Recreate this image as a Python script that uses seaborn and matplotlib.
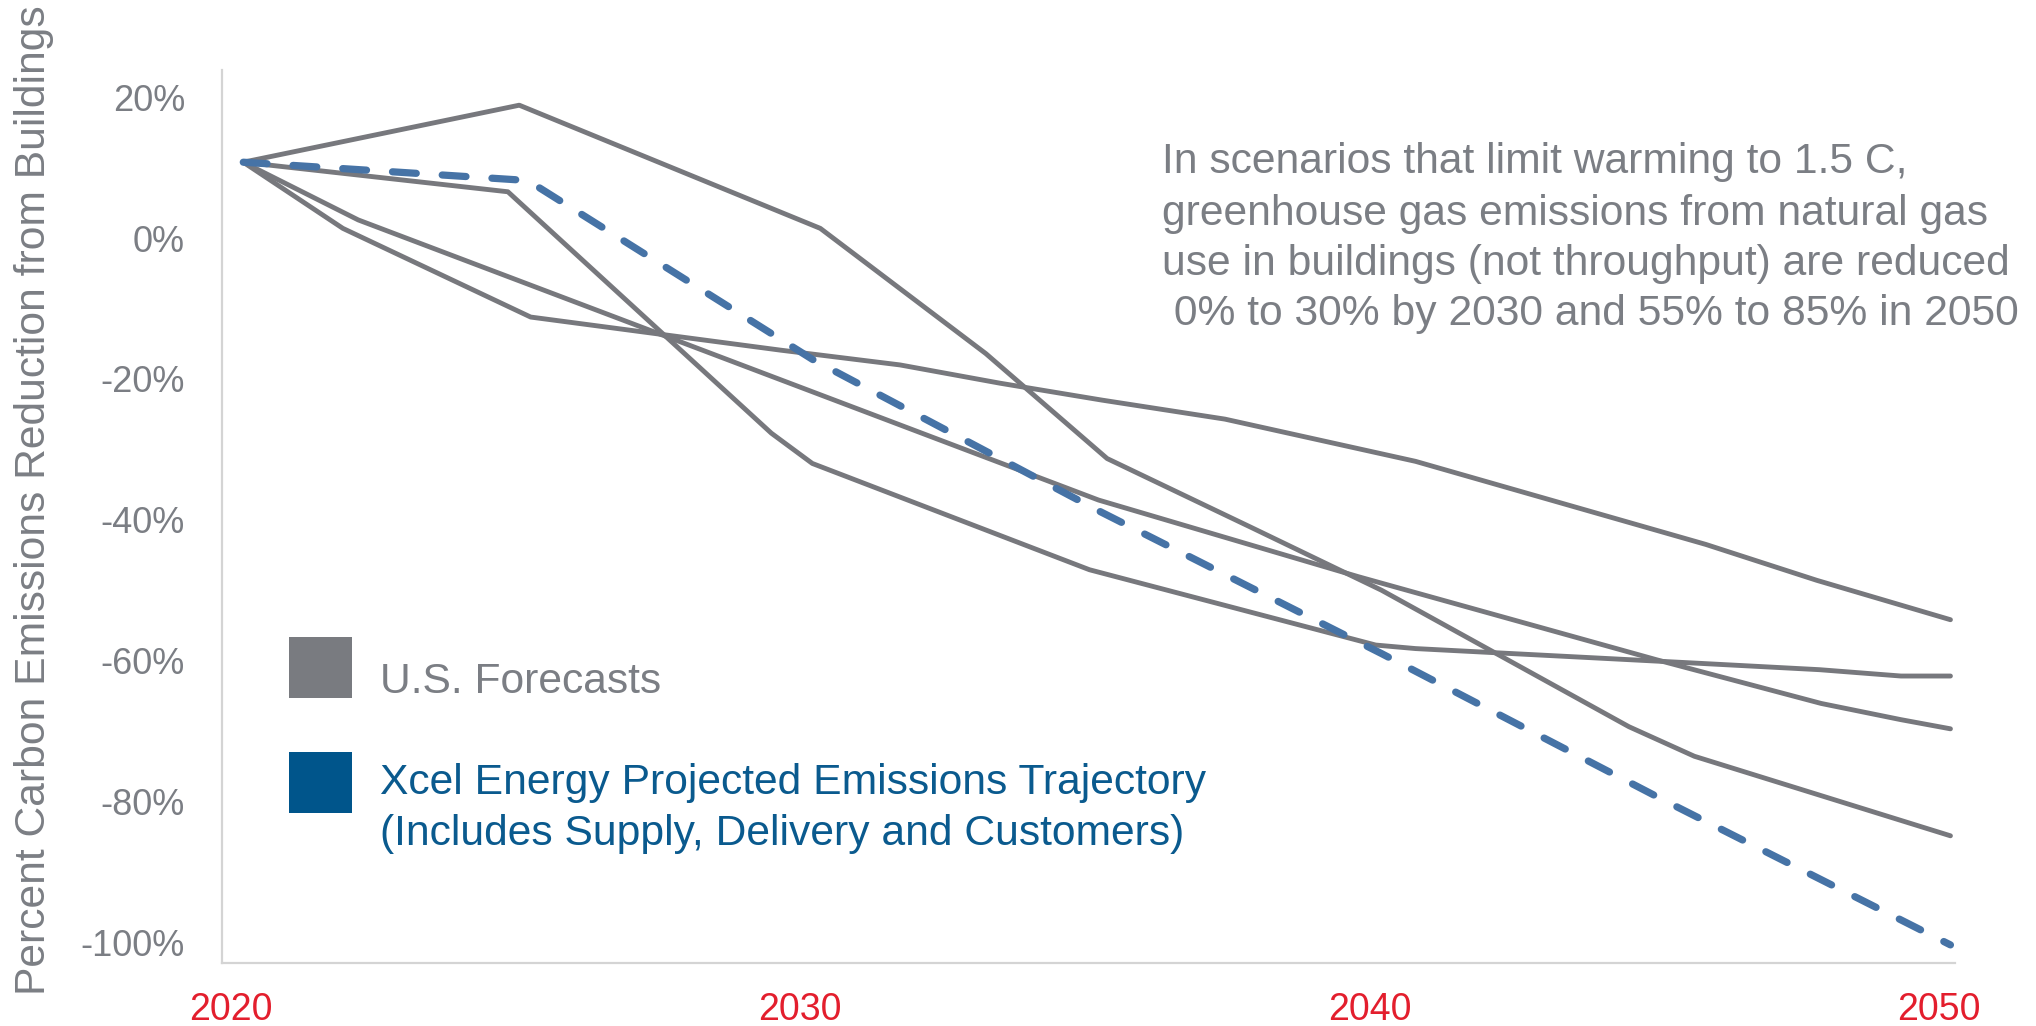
import matplotlib
matplotlib.use("Agg")
import matplotlib.pyplot as plt
import matplotlib.transforms as mtransforms
from matplotlib.patches import Rectangle
import numpy as np
import pandas as pd
import seaborn as sns

# ---------------- data ----------------
forecast_a_years = [2020, 2024.85, 2030.14, 2033.05, 2035.18, 2037.69, 2040.0, 2044.35, 2045.5, 2050]
forecast_a_values = [10.8, 18.9, 1.4, -16.4, -31.3, -41.0, -50.0, -69.4, -73.6, -84.9]

forecast_b_years = [2020, 2024.65, 2029.28, 2030.0, 2034.87, 2039.9, 2040.6, 2045.6, 2047.7, 2049.13, 2050]
forecast_b_values = [10.8, 6.6, -27.7, -32.0, -47.1, -57.8, -58.3, -60.4, -61.3, -62.2, -62.2]

forecast_c_years = [2020, 2022.02, 2035.03, 2039.6, 2044.84, 2047.73, 2049.13, 2050]
forecast_c_values = [10.8, 2.6, -37.2, -48.1, -59.9, -66.1, -68.4, -69.7]

forecast_d_years = [2020, 2021.75, 2025.05, 2029.44, 2031.54, 2033.3, 2035.09, 2037.25, 2040.6, 2045.7, 2047.65, 2050]
forecast_d_values = [10.8, 1.4, -11.2, -15.9, -18.0, -20.6, -23.0, -25.7, -31.7, -43.5, -48.6, -54.2]

xcel_years = [2020, 2025, 2030, 2035, 2040, 2045, 2050]
xcel_values = [10.8, 8.2, -17.2, -38.6, -59.0, -80.0, -100.4]

y_ticks = [-100, -80, -60, -40, -20, 0, 20]
x_ticks = [2020, 2030, 2040, 2050]
x_tick_labels = ["2020", "2030", "2040", "2050"]

y_label = "Percent Carbon Emissions Reduction from Buildings"
note_lines = [
    "In scenarios that limit warming to 1.5 C,",
    "greenhouse gas emissions from natural gas",
    "use in buildings (not throughput) are reduced",
    " 0% to 30% by 2030 and 55% to 85% in 2050",
]
legend_us = "U.S. Forecasts"
legend_xcel = ["Xcel Energy Projected Emissions Trajectory",
               "(Includes Supply, Delivery and Customers)"]

# ---------------- styles ----------------
GRAY_LINE = "#77787d"
BLUE_LINE = "#4673a6"
GRAY_TEXT = "#7b7e84"
BLUE_SQ = "#00558b"
BLUE_TEXT = "#0a5a8e"
RED = "#e31e2d"
SPINE = "#d4d4d4"

sns.set_theme(style="white")
plt.rcParams["font.family"] = ["Liberation Sans", "DejaVu Sans"]
plt.rcParams["axes.unicode_minus"] = False

W, H = 2036, 1026
fig = plt.figure(figsize=(W / 100, H / 100), dpi=100)
ax = fig.add_axes([222 / W, 1 - 962.5 / H, (1955 - 222) / W, (962.5 - 70) / H])

frames = []
for name, ys, vs in [("A", forecast_a_years, forecast_a_values),
                     ("B", forecast_b_years, forecast_b_values),
                     ("C", forecast_c_years, forecast_c_values),
                     ("D", forecast_d_years, forecast_d_values)]:
    frames.append(pd.DataFrame({"year": ys, "value": vs, "series": name}))
us = pd.concat(frames, ignore_index=True)

sns.lineplot(data=us, x="year", y="value", hue="series",
             palette=[GRAY_LINE] * 4, estimator=None, sort=False,
             lw=3.5, legend=False, ax=ax)
for ln in ax.lines:
    ln.set_solid_joinstyle("round")
    ln.set_solid_capstyle("round")

xcel = pd.DataFrame({"year": xcel_years, "value": xcel_values})
sns.lineplot(data=xcel, x="year", y="value", color=BLUE_LINE, lw=5.2,
             estimator=None, sort=False, legend=False, ax=ax)
xl = ax.lines[-1]
xl.set_dashes((3.3, 3.6))
xl.set_dash_capstyle("round")
xl.set_dash_joinstyle("round")

ax.set_xlim(2019.626, 2050.08)
ax.set_ylim(-102.9, 23.9)
ax.set_xlabel("")
ax.set_ylabel("")
sns.despine(ax=ax)
for s in ("left", "bottom"):
    ax.spines[s].set_color(SPINE)
    ax.spines[s].set_linewidth(1.6)

ax.set_yticks(y_ticks)
ax.set_yticklabels([f"{v}%" for v in y_ticks])
ax.set_xticks(x_ticks)
ax.set_xticklabels(x_tick_labels)
ax.tick_params(axis="y", length=0, pad=26.6, labelsize=26, labelcolor=GRAY_TEXT)
ax.tick_params(axis="x", length=0, pad=21.5, labelsize=27, labelcolor=RED)
off = mtransforms.ScaledTranslation(-12 / 100, 0, fig.dpi_scale_trans)
for lbl in ax.get_xticklabels():
    lbl.set_transform(lbl.get_transform() + off)

# y label
fig.text(34 / W, 1 - 500 / H, y_label, rotation=90, ha="center", va="center",
         fontsize=30.7, color=GRAY_TEXT)

# annotation
for line, base in zip(note_lines, [173.5, 224.5, 275, 324.5]):
    fig.text(1162 / W, 1 - base / H, line, ha="left", va="baseline",
             fontsize=30.7, color=GRAY_TEXT)

# legend (manual)
fig.patches.append(Rectangle((289 / W, 1 - 697.7 / H), 62.7 / W, 61 / H,
                             transform=fig.transFigure, color="#797b80", lw=0))
fig.patches.append(Rectangle((289 / W, 1 - 812.7 / H), 62.7 / W, 60.4 / H,
                             transform=fig.transFigure, color=BLUE_SQ, lw=0))
fig.text(380 / W, 1 - 692.7 / H, legend_us, ha="left", va="baseline",
         fontsize=30.7, color=GRAY_TEXT)
for line, base in zip(legend_xcel, [794, 845]):
    fig.text(380 / W, 1 - base / H, line, ha="left", va="baseline",
             fontsize=30.7, color=BLUE_TEXT)

fig.savefig("out.png", dpi=100, facecolor="white")
